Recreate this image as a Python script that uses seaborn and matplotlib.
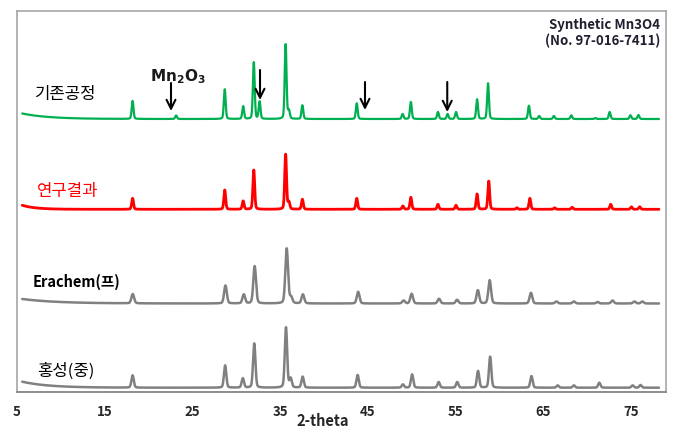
"""
plot.py
-------
XRD patterns (stacked) of Mn3O4 samples, redrawn with seaborn.
Run: python plot.py
"""

import numpy as np
import pandas as pd
import matplotlib
matplotlib.use("Agg")
import matplotlib.pyplot as plt
import seaborn as sns

# -------------------------------------------------------------------
# Data (peak positions on the chart's 2-theta axis, heights in a.u.)
# -------------------------------------------------------------------
SAMPLES = ["기존공정", "연구결과", "Erachem(프)", "홍성(중)"]
COLORS = ["#00B050", "#FF0000", "#808080", "#808080"]
BASELINES = [273.0, 182.7, 88.5, 4.3]          # vertical offset of each trace
BG_AMP = [5.5, 4.0, 4.5, 6.0]                  # low-angle background rise
BG_DECAY = [3.0, 1.5, 4.0, 3.0]
PEAK_WIDTH = [0.10, 0.10, 0.15, 0.13]

GREEN_POS = [18.18, 23.14, 28.69, 30.79, 32.00, 32.66, 35.63, 36.00, 37.54,
             43.74, 48.97, 49.91, 53.00, 54.10, 55.06, 57.46, 58.71, 63.37,
             64.54, 66.22, 68.20, 70.94, 72.58, 74.94, 75.86]
GREEN_HT = [18.0, 3.5, 29.7, 12.7, 56.7, 17.3, 74.7, 8.0, 13.7,
            15.7, 5.0, 17.0, 7.0, 5.0, 7.0, 19.7, 35.7, 13.3,
            3.0, 3.0, 3.7, 1.0, 7.0, 3.7, 4.0]

RED_POS = [18.18, 28.69, 30.79, 32.00, 35.63, 36.00, 37.54, 43.74, 49.00,
           49.91, 53.00, 55.06, 57.46, 58.79, 62.00, 63.48, 66.30, 68.30,
           72.70, 75.06, 76.00]
RED_HT = [11.0, 19.3, 8.3, 39.3, 55.0, 7.0, 10.0, 11.0, 3.3,
          12.0, 5.0, 4.0, 15.3, 28.3, 1.5, 11.0, 1.5, 2.0,
          5.0, 2.5, 2.5]

ERA_POS = [18.20, 28.77, 30.86, 32.10, 35.75, 36.25, 37.60, 43.90, 49.08,
           50.00, 53.12, 55.18, 57.55, 58.90, 63.60, 66.50, 68.50, 71.20,
           72.90, 75.40, 76.30]
ERA_HT = [9.3, 18.0, 9.0, 37.3, 55.0, 6.0, 9.0, 11.7, 3.0,
          9.7, 4.7, 3.7, 13.3, 23.3, 10.7, 2.0, 2.0, 1.5,
          3.0, 2.0, 2.0]

HONG_POS = [18.18, 28.73, 30.75, 32.05, 35.67, 36.20, 37.57, 43.84, 49.00,
            50.05, 53.08, 55.20, 57.57, 58.95, 63.66, 66.65, 68.50, 71.40,
            75.20, 76.10]
HONG_HT = [12.3, 22.3, 9.3, 44.3, 60.3, 9.0, 11.0, 12.7, 3.3,
           13.3, 5.7, 5.7, 16.7, 31.0, 11.7, 2.3, 2.3, 5.0,
           2.3, 2.7]

PEAK_POS = [GREEN_POS, RED_POS, ERA_POS, HONG_POS]
PEAK_HT = [GREEN_HT, RED_HT, ERA_HT, HONG_HT]

# arrows marking Mn2O3 reflections (2-theta, arrow top, arrow tip)
ARROW_X = [22.56, 32.71, 44.68, 54.06]
ARROW_TOP = [309, 322, 310, 310]
ARROW_TIP = [281, 292, 282, 280]

X_TICKS = [5, 15, 25, 35, 45, 55, 65, 75]


def build_pattern(i, two_theta):
    """Sum of peaks + small low-angle background for sample i."""
    y = np.full_like(two_theta, BASELINES[i])
    y += BG_AMP[i] * np.exp(-(two_theta - two_theta[0]) / BG_DECAY[i])
    w = PEAK_WIDTH[i]
    for pos, ht in zip(PEAK_POS[i], PEAK_HT[i]):
        gauss = np.exp(-0.5 * ((two_theta - pos) / w) ** 2)
        lor = 1.0 / (1.0 + ((two_theta - pos) / (1.6 * w)) ** 2)
        y += ht * (0.85 * gauss + 0.15 * lor)
    return y


# -------------------------------------------------------------------
# Plot
# -------------------------------------------------------------------
sns.set_theme(style="white")
plt.rcParams["font.family"] = ["Noto Sans CJK KR", "DejaVu Sans"]
plt.rcParams["mathtext.fontset"] = "dejavusans"

fig = plt.figure(figsize=(6.82, 4.36), dpi=100)
ax = fig.add_axes([17 / 682, 1 - 392 / 436, 649 / 682, 381 / 436])

two_theta = np.linspace(5.6, 78.2, 5000)
frames = []
for i, name in enumerate(SAMPLES):
    frames.append(pd.DataFrame({"2-theta": two_theta,
                                "intensity": build_pattern(i, two_theta),
                                "sample": name}))
df = pd.concat(frames, ignore_index=True)

line_w = [1.6, 2.0, 1.8, 1.8]
for i, name in enumerate(SAMPLES):
    sns.lineplot(data=df[df["sample"] == name], x="2-theta", y="intensity",
                 color=COLORS[i], linewidth=line_w[i], ax=ax, legend=False)

# sample labels
label_x = [7.05, 7.28, 6.82, 7.28]
label_y = [297, 200.3, 110.3, 20.3]
label_c = ["black", "#FF0000", "black", "black"]
label_w = ["normal", "normal", "bold", "normal"]
label_s = [12, 12, 10.5, 12]
for i, name in enumerate(SAMPLES):
    ax.text(label_x[i], label_y[i], name, color=label_c[i], fontsize=label_s[i],
            fontweight=label_w[i], ha="left", va="center")

# Mn2O3 markers
ax.text(23.36, 315, r"$\mathbf{Mn_2O_3}$", fontsize=11,
        ha="center", va="center", color="#1a1a1a")
for x, top, tip in zip(ARROW_X, ARROW_TOP, ARROW_TIP):
    ax.annotate("", xy=(x, tip), xytext=(x, top),
                arrowprops=dict(arrowstyle="->", color="black", lw=1.5,
                                mutation_scale=16, shrinkA=0, shrinkB=0))

ax.text(78.3, 367, "Synthetic Mn3O4", fontsize=9.5, fontweight="bold",
        ha="right", va="center", color="#1f1f2f")
ax.text(78.4, 351.3, "(No. 97-016-7411)", fontsize=9.5, fontweight="bold",
        ha="right", va="center", color="#1f1f2f")

# axes styling
ax.set_xlim(5, 5 + 649 / 8.77)
ax.set_ylim(0, 381)
ax.set_xticks(X_TICKS)
ax.set_xticklabels([str(t) for t in X_TICKS], fontweight="bold", fontsize=9.5)
ax.set_yticks([])
ax.tick_params(axis="x", length=0, pad=9)
ax.set_xlabel("2-theta", fontweight="bold", fontsize=10.5)
ax.xaxis.set_label_coords((322.6 - 17) / 649, -0.055)
ax.set_ylabel("")
for side in ["left", "top", "right"]:
    ax.spines[side].set_color("#A6A6A6")
    ax.spines[side].set_linewidth(1.2)
ax.spines["bottom"].set_color("#8C8C8C")
ax.spines["bottom"].set_linewidth(1.4)

fig.savefig("out.png", dpi=100)
plt.close(fig)
